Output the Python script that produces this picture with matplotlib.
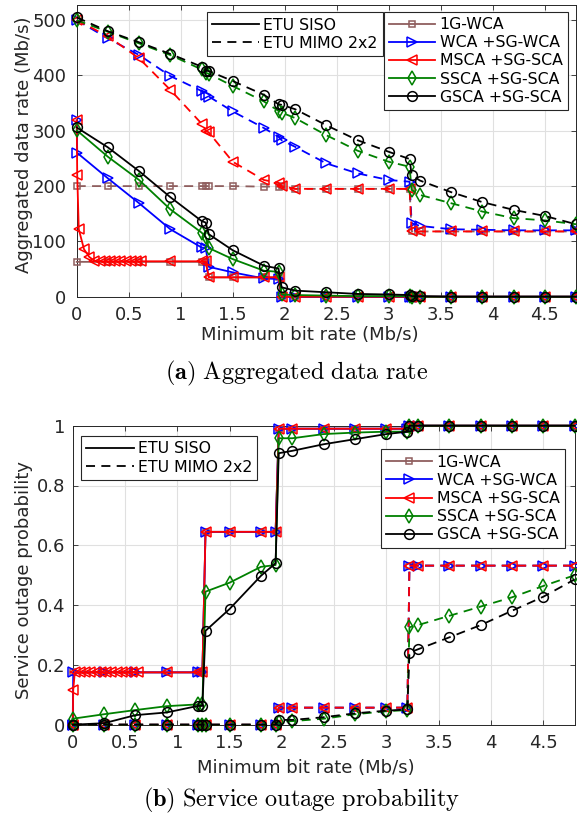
import matplotlib
matplotlib.use("Agg")
import matplotlib.pyplot as plt
from matplotlib.lines import Line2D

plt.rcParams["font.family"] = ["DejaVu Sans"]
plt.rcParams["mathtext.fontset"] = "cm"

# ---------------- data ----------------
series_names = ["1G-WCA", "WCA +SG-WCA", "MSCA +SG-SCA", "SSCA +SG-SCA", "GSCA +SG-SCA"]
mode_names = ["ETU SISO", "ETU MIMO 2x2"]

# minimum bit rate grid (Mb/s)
x_grid = [0, 0.3, 0.6, 0.9, 1.2, 1.24, 1.27, 1.5, 1.8, 1.94, 1.97, 2.1, 2.4, 2.7,
          3.0, 3.2, 3.22, 3.3, 3.6, 3.9, 4.2, 4.5, 4.8]
x_wca_siso = [0, 0.005] + x_grid[1:]
x_msca_siso = [0, 0.005, 0.02, 0.07, 0.12, 0.17, 0.22, 0.27, 0.32, 0.37, 0.42, 0.47,
               0.52, 0.57, 0.62] + x_grid[3:]

# aggregated data rate (Mb/s), ETU SISO
rate_1g_siso = [63, 63, 63, 63, 63, 63, 35, 35, 35, 35, 0, 0, 0, 0, 0, 0, 0, 0, 0, 0, 0, 0, 0]
rate_wca_siso = [319, 260, 214, 169, 122, 89, 88, 54, 44, 33, 32, 0, 0, 0, 0, 0, 0, 0, 0, 0, 0, 0, 0, 0]
rate_msca_siso = [319, 220, 122, 86, 72, 65, 64, 64, 64, 64, 64, 64, 64, 64, 64, 64, 64, 64,
                  35, 35, 35, 35, 0, 0, 0, 0, 0, 0, 0, 0, 0, 0, 0, 0, 0]
rate_ssca_siso = [301, 253, 211, 158, 116, 108, 88, 68, 47, 45, 4, 3, 2, 1, 1, 1, 0, 0, 0, 0, 0, 0, 0]
rate_gsca_siso = [306, 270, 227, 180, 137, 134, 113, 84, 56, 51, 17, 11, 8, 5, 4, 3, 1, 1, 0, 0, 0, 0, 0]

# aggregated data rate (Mb/s), ETU MIMO 2x2
rate_1g_mimo = [200, 200, 200, 200, 200, 200, 200, 200, 199, 199, 200, 195, 195, 195, 195, 195,
                118, 118, 118, 118, 118, 118, 118]
rate_wca_mimo = [500, 467, 437, 399, 372, 364, 362, 335, 305, 289, 283, 271, 241, 223, 211, 208,
                 133, 128, 122, 121, 120, 120, 120]
rate_msca_mimo = [500, 471, 431, 374, 313, 300, 297, 244, 211, 206, 200, 195, 195, 195, 195, 195,
                  118, 118, 118, 118, 118, 118, 118]
rate_ssca_mimo = [500, 479, 458, 437, 411, 405, 403, 381, 353, 336, 333, 323, 292, 264, 244, 235,
                  193, 184, 169, 154, 142, 138, 131]
rate_gsca_mimo = [505, 480, 460, 439, 416, 409, 408, 390, 365, 348, 347, 339, 310, 283, 262, 249,
                  220, 210, 189, 171, 157, 146, 131]

# service outage probability, ETU SISO
out_1g_siso = [0.175] * 6 + [0.645] * 4 + [0.99] * 6 + [1.0] * 7
out_wca_siso = [0.0] + [0.175] * 6 + [0.645] * 4 + [0.99] * 6 + [1.0] * 7
out_msca_siso = [0.0, 0.116] + [0.175] * 16 + [0.645] * 4 + [0.99] * 6 + [1.0] * 7
out_ssca_siso = [0.02, 0.035, 0.049, 0.062, 0.068, 0.068, 0.445, 0.475, 0.528, 0.534, 0.958,
                 0.958, 0.972, 0.977, 0.98, 0.98, 1, 1, 1, 1, 1, 1, 1]
out_gsca_siso = [0.0, 0.005, 0.032, 0.041, 0.063, 0.063, 0.314, 0.387, 0.498, 0.54, 0.908,
                 0.916, 0.938, 0.955, 0.972, 0.98, 1, 1, 1, 1, 1, 1, 1]

# service outage probability, ETU MIMO 2x2
out_1g_mimo = [0.0] * 10 + [0.057] * 6 + [0.532] * 7
out_wca_mimo = [0.0] * 10 + [0.057] * 6 + [0.532] * 7
out_msca_mimo = [0.0] * 10 + [0.057] * 6 + [0.532] * 7
out_ssca_mimo = [0.0] * 10 + [0.01, 0.012, 0.02, 0.035, 0.045, 0.049, 0.326, 0.333, 0.364,
                              0.395, 0.426, 0.464, 0.5]
out_gsca_mimo = [0.0] * 10 + [0.016, 0.016, 0.025, 0.038, 0.047, 0.051, 0.241, 0.252, 0.292,
                              0.333, 0.381, 0.428, 0.486]

x_ticks = [0, 0.5, 1, 1.5, 2, 2.5, 3, 3.5, 4, 4.5]
x_tick_labels = ["0", "0.5", "1", "1.5", "2", "2.5", "3", "3.5", "4", "4.5"]
rate_ticks = [0, 100, 200, 300, 400, 500]
out_ticks = [0, 0.2, 0.4, 0.6, 0.8, 1]
out_tick_labels = ["0", "0.2", "0.4", "0.6", "0.8", "1"]

# ---------------- styling ----------------
colors = ["#8f5e5e", "#0000ff", "#ff0000", "#008000", "#000000"]
markers = ["s", ">", "<", "d", "o"]
msizes = [4.5, 7, 7, 7, 7]
dark = "#262626"
dash = (0, (5, 3.5))
axis_fs = 13
legend_fs = 11.3
W, H = 577, 816

fig = plt.figure(figsize=(W / 100, H / 100), dpi=100)


def frac_box(left, top, right, bottom):
    return [left / W, 1 - bottom / H, (right - left) / W, (bottom - top) / H]


ax1 = fig.add_axes(frac_box(76.7, 4.7, 576, 296.7))
ax2 = fig.add_axes(frac_box(72.7, 425.7, 574.7, 724.7))

top_sets = [
    (x_grid, rate_1g_siso, x_grid, rate_1g_mimo),
    (x_wca_siso, rate_wca_siso, x_grid, rate_wca_mimo),
    (x_msca_siso, rate_msca_siso, x_grid, rate_msca_mimo),
    (x_grid, rate_ssca_siso, x_grid, rate_ssca_mimo),
    (x_grid, rate_gsca_siso, x_grid, rate_gsca_mimo),
]
bot_sets = [
    (x_grid, out_1g_siso, x_grid, out_1g_mimo),
    (x_wca_siso, out_wca_siso, x_grid, out_wca_mimo),
    (x_msca_siso, out_msca_siso, x_grid, out_msca_mimo),
    (x_grid, out_ssca_siso, x_grid, out_ssca_mimo),
    (x_grid, out_gsca_siso, x_grid, out_gsca_mimo),
]


def draw(ax, sets):
    for i, (xs, ys, xm, ym) in enumerate(sets):
        kw = dict(color=colors[i], marker=markers[i], markersize=msizes[i],
                  markerfacecolor="none", markeredgewidth=1.1, linewidth=1.3,
                  clip_on=False, zorder=3)
        ax.plot(xs, ys, linestyle="-", **kw)
        ax.plot(xm, ym, linestyle=dash, **kw)


def style(ax, ypad):
    ax.set_xlim(0, 4.8)
    ax.set_xticks(x_ticks)
    ax.set_xticklabels(x_tick_labels)
    ax.grid(True, color="#e0e0e0", linewidth=0.8, zorder=0)
    ax.set_axisbelow(True)
    ax.tick_params(direction="in", length=3.5, width=0.6, colors=dark, labelsize=axis_fs,
                   top=True, right=True)
    ax.tick_params(axis="x", pad=7)
    ax.tick_params(axis="y", pad=ypad)
    for s in ax.spines.values():
        s.set_color(dark)
        s.set_linewidth(0.7)
    ax.set_xlabel("Minimum bit rate (Mb/s)", fontsize=axis_fs, color=dark)


def legends(ax, box1, box2):
    h1 = [Line2D([], [], color="k", lw=1.3, linestyle="-"),
          Line2D([], [], color="k", lw=1.3, linestyle=dash)]
    leg1 = ax.legend(h1, mode_names, loc="upper left",
                     bbox_to_anchor=(box1[0] / W, 1 - box1[1] / H),
                     bbox_transform=fig.transFigure, borderaxespad=0, fontsize=legend_fs,
                     handlelength=3.0, handletextpad=0.25, labelspacing=0.2,
                     borderpad=0.35, fancybox=False, framealpha=1, edgecolor=dark)
    leg1.get_frame().set_linewidth(0.8)
    ax.add_artist(leg1)
    h2 = [Line2D([], [], color=colors[i], marker=markers[i], markersize=msizes[i],
                 markerfacecolor="none", markeredgewidth=1.1, lw=1.3)
          for i in range(5)]
    leg2 = ax.legend(h2, series_names, loc="upper left",
                     bbox_to_anchor=(box2[0] / W, 1 - box2[1] / H),
                     bbox_transform=fig.transFigure, borderaxespad=0, fontsize=legend_fs,
                     handlelength=2.9, handletextpad=0.3, labelspacing=0.2,
                     borderpad=0.35, fancybox=False, framealpha=1, edgecolor=dark)
    leg2.get_frame().set_linewidth(0.8)


draw(ax1, top_sets)
style(ax1, 7.5)
ax1.set_ylim(0, 528)
ax1.set_yticks(rate_ticks)
ax1.set_ylabel("Aggregated data rate (Mb/s)", fontsize=axis_fs, color=dark)
ax1.yaxis.set_label_coords(-0.0875, 0.52)
ax1.xaxis.set_label_coords(0.467, -0.102)
legends(ax1, (206.7, 12.3), (384, 11.7))

draw(ax2, bot_sets)
style(ax2, 5.5)
ax2.set_ylim(0, 1)
ax2.set_yticks(out_ticks)
ax2.set_yticklabels(out_tick_labels)
ax2.set_ylabel("Service outage probability", fontsize=axis_fs, color=dark)
ax2.yaxis.set_label_coords(-0.079, 0.484)
ax2.xaxis.set_label_coords(0.465, -0.116)
legends(ax2, (81, 436), (381, 449.3))

fig.text(297 / W, 1 - 373 / H, r"$\mathbf{(a)}\ \mathrm{Aggregated\ data\ rate}$",
         ha="center", va="center", fontsize=17.5)
fig.text(301.5 / W, 1 - 800 / H, r"$\mathbf{(b)}\ \mathrm{Service\ outage\ probability}$",
         ha="center", va="center", fontsize=17.5)

fig.savefig("out.png", dpi=100)
